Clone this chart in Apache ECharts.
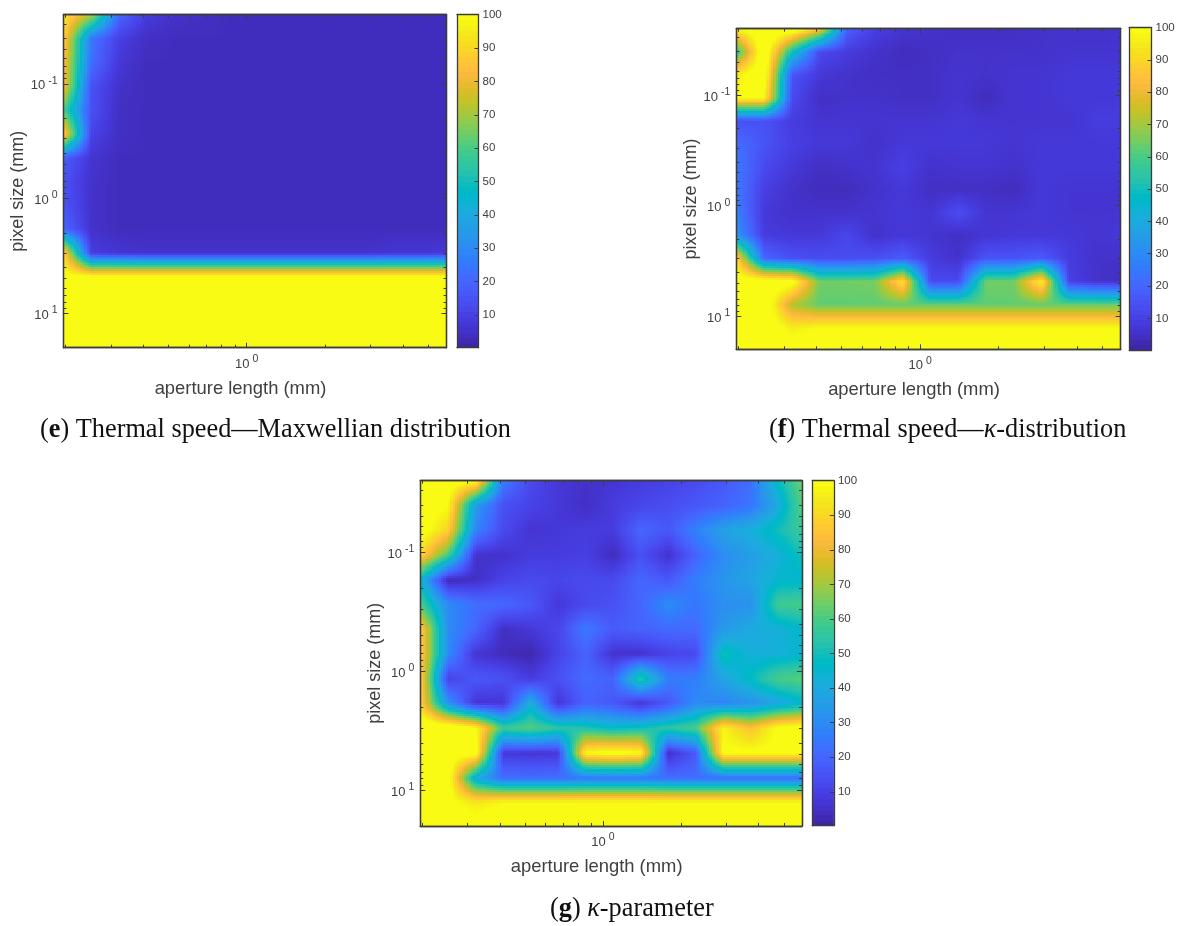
<!DOCTYPE html>
<html><head><meta charset="utf-8">
<style>html,body{margin:0;padding:0;background:#fff}#c{width:1180px;height:926px}</style>
<script src="https://cdn.jsdelivr.net/npm/echarts@6/dist/echarts.min.js"></script>
</head><body><div id="c"></div>
<script>
const apertureLength=[0.197,0.252,0.322,0.411,0.525,0.671,0.858,1.096,1.40,1.79,2.28,2.92,3.73,4.77,5.88];
const pixelSize=[0.0249,0.0403,0.0650,0.105,0.170,0.274,0.443,0.715,1.15,1.86,3.01,4.86,7.85,12.7,20];
const xMajor=[1];
const xMinor=[0.2,0.3,0.4,0.5,0.6,0.7,0.8,0.9,2,3,4,5];
const yMajor=[0.1,1,10];
const yMinor=[0.03,0.04,0.05,0.06,0.07,0.08,0.09,0.2,0.3,0.4,0.5,0.6,0.7,0.8,0.9,2,3,4,5,6,7,8,9];
const colorbarTicks=[10,20,30,40,50,60,70,80,90,100];
const maxwellian=[
[96,72,20,8,5,4,3,3,3,3,3,3,3,3,3],
[90,24,9,4,3,3,3,3,3,3,3,3,3,3,3],
[86,22,7,3,3,3,3,3,3,3,3,3,3,3,3],
[85,14,5,3,3,3,3,3,3,3,3,3,3,3,3],
[60,14,4,3,3,3,3,3,3,3,3,3,3,3,3],
[92,10,4,3,3,3,3,3,3,3,3,3,3,3,3],
[18,6,3,3,3,3,3,3,3,3,3,3,3,3,3],
[14,5,3,3,3,3,3,3,3,3,3,3,3,3,3],
[15,5,3,3,3,3,3,3,3,3,3,3,3,3,3],
[20,5,3,3,3,3,3,3,3,3,3,3,3,3,3],
[92,8,6,5,5,5,5,5,5,5,5,5,6,6,7],
[103,103,103,103,103,103,103,103,103,103,103,103,103,103,103],
[105,105,105,105,105,105,105,105,105,105,105,105,105,105,105],
[105,105,105,105,105,105,105,105,105,105,105,105,105,105,105],
[105,105,105,105,105,105,105,105,105,105,105,105,105,105,105]];
const kappaThermal=[
[98,110,110,85,18,9,6,5,4,4,4,5,5,5,5],
[55,110,50,12,8,5,3,4,5,5,5,5,6,6,6],
[96,108,15,7,5,4,4,4,6,5,6,6,7,7,7],
[100,100,12,4,5,5,4,4,6,3,6,6,7,7,7],
[14,14,8,6,6,6,6,6,7,6,6,6,6,8,8],
[22,15,9,7,7,5,7,7,7,7,6,7,7,7,7],
[25,12,7,4,5,6,9,5,6,6,5,7,7,7,7],
[25,9,5,3,3,5,7,4,4,4,3,7,6,6,6],
[27,7,5,5,5,6,7,6,13,6,6,7,6,6,6],
[33,8,7,7,11,5,7,6,4,6,7,7,7,6,7],
[92,20,14,13,13,14,17,8,5,15,15,17,8,5,5],
[106,108,105,65,65,66,96,12,12,65,65,99,9,5,4],
[105,110,72,63,63,63,63,63,63,63,63,63,63,63,63],
[105,108,96,100,100,100,100,100,100,100,100,100,100,100,100],
[106,106,106,106,106,106,106,106,106,106,106,106,106,106,106]];
const kappaParam=[
[105,105,102,25,12,7,5,6,8,10,12,16,22,48,65],
[105,100,35,14,10,7,4,8,11,13,16,19,24,40,62],
[105,90,28,12,6,7,8,8,20,16,27,37,42,50,58],
[92,60,5,5,8,8,9,3,14,5,19,30,36,42,50],
[45,2,4,10,12,11,12,12,20,16,26,33,38,45,45],
[60,30,22,20,16,7,12,14,20,30,24,31,32,58,60],
[90,30,20,4,7,11,25,17,19,21,21,34,40,42,46],
[90,30,6,3,1,10,19,5,5,10,12,50,42,42,45],
[90,10,16,14,8,14,21,19,55,26,26,38,48,60,62],
[90,32,6,6,42,6,19,16,6,16,30,28,32,38,45],
[110,110,100,58,62,55,52,47,50,55,60,98,85,102,105],
[105,105,105,7,6,7,100,104,100,4,16,102,102,102,102],
[105,105,40,22,22,22,24,24,24,22,22,22,22,22,22],
[105,103,95,100,100,100,100,100,100,100,100,100,100,100,100],
[105,105,105,105,105,105,105,105,105,105,105,105,105,105,105]];
const parula=[[.2422,.1504,.6603],[.2504,.165,.7076],[.2578,.1818,.7511],[.2647,.1978,.7952],[.2706,.2147,.8364],[.2751,.2342,.871],[.2783,.2559,.8991],[.2803,.2782,.9221],[.2813,.3006,.9414],[.281,.3228,.9579],[.2795,.3447,.9717],[.276,.3667,.9829],[.2699,.3892,.9906],[.2602,.4123,.9952],[.244,.4358,.9988],[.2206,.4603,.9973],[.1963,.4847,.9892],[.1834,.5074,.9798],[.1786,.5289,.9682],[.1764,.5499,.952],[.1687,.5703,.9359],[.154,.5902,.9218],[.146,.6091,.9079],[.138,.6276,.8973],[.1248,.6459,.8883],[.1113,.6635,.8763],[.0952,.6798,.8598],[.0689,.6948,.8394],[.0297,.7082,.8163],[.0036,.7203,.7917],[.0067,.7312,.766],[.0433,.7411,.7394],[.0964,.75,.712],[.1408,.7584,.6842],[.1717,.767,.6554],[.1938,.7758,.6251],[.2161,.7843,.5923],[.247,.7918,.5567],[.2906,.7973,.5188],[.3406,.8008,.4789],[.3909,.8029,.4354],[.4456,.8024,.3909],[.5044,.7993,.348],[.5616,.7942,.3045],[.6174,.7876,.2612],[.672,.7793,.2227],[.7242,.7698,.191],[.7738,.7598,.1646],[.8203,.7498,.1535],[.8634,.7406,.1596],[.9035,.733,.1774],[.9393,.7288,.21],[.9728,.7298,.2394],[.9956,.7434,.2371],[.997,.7659,.2199],[.9952,.7861,.199],[.9892,.8134,.176],[.9786,.8386,.1496],[.9676,.8639,.126],[.961,.889,.1153],[.9597,.9135,.1063],[.9628,.9373,.0953],[.9691,.9606,.0689],[.9769,.9839,.0805]];

const cMin=0.2,cMax=100,SUB=12;
const INK='#3c3c3c',TXT='#404040',SANS='"Liberation Sans",Arial,sans-serif',SERIF='"Liberation Serif",serif';
const colourOf=v=>{
  const t=Math.max(0,Math.min(1,(v-cMin)/(cMax-cMin)))*63;
  const a=Math.floor(t),b=Math.min(63,a+1),f=t-a;
  const c=k=>Math.round(255*(parula[a][k]*(1-f)+parula[b][k]*f));
  return `rgb(${c(0)},${c(1)},${c(2)})`;
};
const sup=v=>`{b|10}{s|${Math.round(Math.log10(v))}}`;
const rich={b:{fontSize:13,color:TXT,fontFamily:SANS,padding:[4,0,0,0]},s:{fontSize:10.5,color:TXT,fontFamily:SANS,padding:[0,0,6,3]}};

const panels=[
 {grid:[63.5,14.7,383,333],bar:[457,14.7,21.5,333],z:maxwellian},
 {grid:[736.3,28.7,384.4,320.6],bar:[1129.3,27.6,22.2,322.4],z:kappaThermal},
 {grid:[420.3,480.7,381.7,345.3],bar:[812.3,480.7,21.6,345],z:kappaParam}
];
const grids=[],xAxes=[],yAxes=[],series=[];

function shading(z,gi,xi,yi){
  const nx=apertureLength.length,ny=pixelSize.length,data=[];
  z.forEach((row,j)=>row.forEach((v,i)=>data.push([apertureLength[i],pixelSize[j],v])));
  return {type:'custom',coordinateSystem:'cartesian2d',xAxisIndex:xi,yAxisIndex:yi,silent:true,animation:false,progressive:0,z:2,
    encode:{x:0,y:1},data,
    renderItem(p,api){
      const i=p.dataIndex%nx,j=Math.floor(p.dataIndex/nx);
      if(i===nx-1||j===ny-1)return null;
      const a=api.coord([apertureLength[i],pixelSize[j]]),b=api.coord([apertureLength[i+1],pixelSize[j+1]]);
      const v00=z[j][i],v10=z[j][i+1],v01=z[j+1][i],v11=z[j+1][i+1],children=[];
      for(let q=0;q<SUB;q++){
        const y0=Math.round(a[1]+(b[1]-a[1])*q/SUB),y1=Math.round(a[1]+(b[1]-a[1])*(q+1)/SUB),fy=(q+.5)/SUB;
        for(let r=0;r<SUB;r++){
          const x0=Math.round(a[0]+(b[0]-a[0])*r/SUB),x1=Math.round(a[0]+(b[0]-a[0])*(r+1)/SUB),fx=(r+.5)/SUB;
          const v=(v00*(1-fx)+v10*fx)*(1-fy)+(v01*(1-fx)+v11*fx)*fy;
          children.push({type:'rect',shape:{x:x0,y:y0,width:x1-x0,height:y1-y0},style:{fill:colourOf(v)}});
        }
      }
      return {type:'group',children};
    }};
}

const frame={show:true,onZero:false,lineStyle:{color:INK,width:1.3}};

function addAxes(gridIndex,isMajor,withText){
  const xTicks=isMajor?xMajor:xMinor,yTicks=isMajor?yMajor:yMinor,len=isMajor?5:3;
  const base={type:'log',logBase:10,gridIndex,z:5,splitLine:{show:false},minorTick:{show:false},silent:true,axisLine:frame};
  ['bottom','top'].forEach(pos=>{
    const label=withText&&pos==='bottom';
    xAxes.push(Object.assign({},base,{position:pos,min:apertureLength[0],max:apertureLength[14],
      axisTick:{show:true,inside:true,length:len,customValues:xTicks,lineStyle:{color:INK,width:1}},
      axisLabel:label?{show:true,customValues:xMajor,formatter:sup,rich,color:TXT,fontFamily:SANS,margin:6}:{show:false},
      name:label?'aperture length (mm)':'',nameLocation:'middle',nameGap:32,nameTextStyle:{color:TXT,fontSize:18.4,fontFamily:SANS,padding:[0,29,0,0]}}));
  });
  ['left','right'].forEach(pos=>{
    const label=withText&&pos==='left';
    yAxes.push(Object.assign({},base,{position:pos,inverse:true,min:pixelSize[0],max:pixelSize[14],
      axisTick:{show:true,inside:true,length:len,customValues:yTicks,lineStyle:{color:INK,width:1}},
      axisLabel:label?{show:true,customValues:yMajor,formatter:sup,rich,color:TXT,fontFamily:SANS,margin:6}:{show:false},
      name:label?'pixel size (mm)':'',nameLocation:'middle',nameGap:35.5,nameTextStyle:{color:TXT,fontSize:18,fontFamily:SANS,padding:[0,20,0,0]}}));
  });
}

panels.forEach(pn=>{
  const g=pn.grid,rect={left:g[0],top:g[1],width:g[2],height:g[3],containLabel:false};
  let gi=grids.length;grids.push(rect);
  const xi=xAxes.length,yi=yAxes.length;
  addAxes(gi,true,true);
  series.push(shading(pn.z,gi,xi,yi));
  grids.push(Object.assign({},rect));addAxes(gi+1,false,false);
  // colour bar
  const b=pn.bar,bi=grids.length;
  grids.push({left:b[0],top:b[1],width:b[2],height:b[3],containLabel:false});
  const bx=xAxes.length,by=yAxes.length;
  xAxes.push({type:'value',gridIndex:bi,min:0,max:1,position:'bottom',z:5,axisLine:frame,axisTick:{show:false},axisLabel:{show:false},splitLine:{show:false}});
  xAxes.push({type:'value',gridIndex:bi,min:0,max:1,position:'top',z:5,axisLine:frame,axisTick:{show:false},axisLabel:{show:false},splitLine:{show:false}});
  yAxes.push({type:'value',gridIndex:bi,min:cMin,max:cMax,position:'right',z:5,axisLine:frame,splitLine:{show:false},
    axisTick:{show:true,inside:true,length:4,customValues:colorbarTicks,lineStyle:{color:INK}},
    axisLabel:{show:true,customValues:colorbarTicks,color:TXT,fontSize:11.5,fontFamily:SANS,margin:4}});
  yAxes.push({type:'value',gridIndex:bi,min:cMin,max:cMax,position:'left',z:5,axisLine:frame,axisTick:{show:false},axisLabel:{show:false},splitLine:{show:false}});
  series.push({type:'custom',coordinateSystem:'cartesian2d',xAxisIndex:bx,yAxisIndex:by,silent:true,animation:false,z:2,
    encode:{x:0,y:1},data:parula.map((c,k)=>[0,cMin+(cMax-cMin)*k/64]),
    renderItem(p,api){
      const k=p.dataIndex,a=api.coord([0,cMin+(cMax-cMin)*k/64]),d=api.coord([1,cMin+(cMax-cMin)*(k+1)/64]);
      const c=parula[k].map(x=>Math.round(x*255));
      const top=Math.floor(d[1]),bot=Math.ceil(a[1]);
      return {type:'rect',shape:{x:a[0],y:top,width:d[0]-a[0],height:bot-top},style:{fill:`rgb(${c})`}};
    }});
});

const FS=26.3;
const capRich={r:{fontFamily:SERIF,fontSize:FS,color:'#111'},b:{fontFamily:SERIF,fontSize:FS,fontWeight:'bold',color:'#111'},i:{fontFamily:SERIF,fontSize:FS,fontStyle:'italic',color:'#111'}};
const cap=(x,y,t)=>({left:x,top:y,padding:0,text:t,textStyle:{rich:capRich,fontFamily:SERIF,fontSize:FS,fontWeight:'normal'}});
const title=[
 cap(40,417,'{r|(}{b|e}{r|) Thermal speed—Maxwellian distribution}'),
 cap(769,417,'{r|(}{b|f}{r|) Thermal speed—}{i|κ}{r|-distribution}'),
 cap(550,896,'{r|(}{b|g}{r|) }{i|κ}{r|-parameter}')
];
const chart=echarts.init(document.getElementById('c'),null,{renderer:'canvas'});
chart.setOption({animation:false,backgroundColor:'#fff',title,grid:grids,xAxis:xAxes,yAxis:yAxes,series,tooltip:{show:false}});
</script></body></html>
